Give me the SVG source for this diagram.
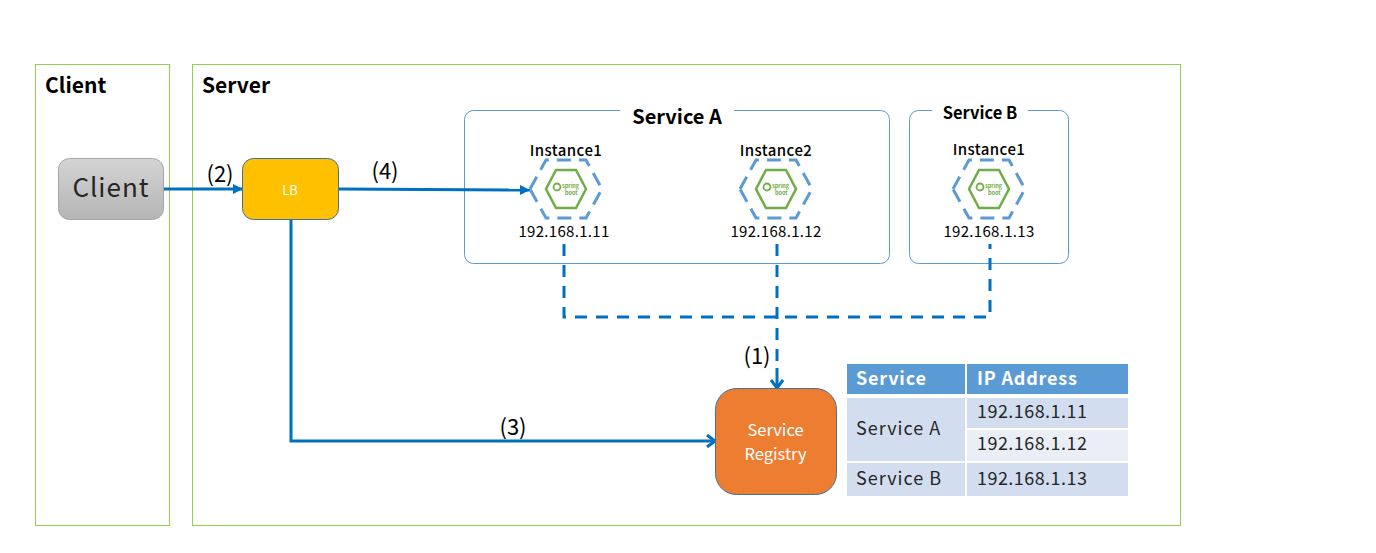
<svg xmlns="http://www.w3.org/2000/svg" width="1376" height="553" viewBox="0 0 1376 553">
<style>
text{font-family:"Noto Sans CJK JP","Noto Sans","Liberation Sans",sans-serif;fill:#000}
.zone{fill:#fff;stroke:#92d050;stroke-width:1}
.svc{fill:#fff;stroke:#5b9bd5;stroke-width:1}
.h{font-weight:700;font-size:21px}
.sub{font-weight:700;font-size:16.500px;text-anchor:middle}
.inst{font-weight:500;font-size:15px;text-anchor:middle;letter-spacing:.4px}
.ip{font-size:15px;text-anchor:middle;letter-spacing:.3px}
.num{font-size:22px;text-anchor:middle}
.conn{fill:none;stroke:#0070c0;stroke-width:3}
.dash{fill:none;stroke:#0070c0;stroke-width:3;stroke-dasharray:12 9}
.hex{fill:none;stroke:#5b9bd5;stroke-width:3;stroke-dasharray:14 8}
.boot{fill:#fff;stroke:#70ad47;stroke-width:2.500}
.bt{font-size:5.500px;font-weight:700;fill:#70ad47}
.th{fill:#5b9bd5}.c1{fill:#d2deef}.c2{fill:#eaeff7}
.tt{font-size:18px;fill:#fff;font-weight:700;letter-spacing:.8px}
.td{font-size:18px;fill:#262626;letter-spacing:1px}
.tn{font-size:18px;fill:#262626;letter-spacing:.45px}
</style>
<defs>
<marker id="tri" markerUnits="userSpaceOnUse" markerWidth="12" markerHeight="12" refX="10" refY="5" orient="auto"><path d="M0 0L10 5L0 10Z" fill="#0070c0"/></marker>
<marker id="open" markerUnits="userSpaceOnUse" markerWidth="14" markerHeight="14" refX="12" refY="7" orient="auto"><path d="M4 1L12 7L4 13" fill="none" stroke="#0070c0" stroke-width="3"/></marker>
<g id="hexicon">
<path class="hex" d="M-36 0L-20 -29H20L36 0L20 29H-20Z"/>
<path class="boot" d="M-20 0L-10 -19H10L20 0L10 19H-10Z"/>
<circle cx="-9" cy="-2" r="3.500" fill="none" stroke="#70ad47" stroke-width="1.800"/>
<text class="bt" x="-4" y="-1">spring</text>
<text class="bt" x="-1" y="6">boot</text>
</g>
</defs>
<g id="client-zone"><rect class="zone" x="35.500" y="64.500" width="134" height="461"/><text class="h" x="45" y="93">Client</text></g>
<g id="server-zone"><rect class="zone" x="192.500" y="64.500" width="988" height="461"/><text class="h" x="202" y="93">Server</text></g>
<g id="service-a"><rect class="svc" x="464.500" y="110.500" width="425" height="153" rx="9"/><rect x="620" y="104" width="114" height="14" fill="#fff"/><text class="sub" x="677" y="124" style="font-size:20px">Service A</text></g>
<g id="service-b"><rect class="svc" x="909.500" y="110.500" width="159" height="153" rx="9"/><rect x="932" y="104" width="96" height="14" fill="#fff"/><text class="sub" x="980" y="119">Service B</text></g>
<g id="connectors">
<path class="dash" d="M564 244V317H990V244"/>
<path class="dash" d="M777 244V368"/>
<path class="conn" marker-end="url(#open)" d="M777 368V388"/>
<path class="conn" marker-end="url(#tri)" d="M164 189H243"/>
<path class="conn" marker-end="url(#tri)" d="M339 189L530 190"/>
<path class="conn" marker-end="url(#open)" d="M291 219V441H715"/>
</g>
<g id="client"><defs><linearGradient id="g" x1="0" y1="0" x2="0" y2="1"><stop offset="0" stop-color="#d4d4d4"/><stop offset="1" stop-color="#b5b5b5"/></linearGradient></defs><rect x="58.500" y="158.500" width="105" height="61" rx="11" fill="url(#g)" stroke="#a5a5a5"/><text x="111" y="197" font-size="26" text-anchor="middle" letter-spacing="1" style="fill:#262626">Client</text></g>
<g id="lb"><rect x="242.500" y="158.500" width="96" height="61" rx="11" fill="#ffc000" stroke="#41719c"/><text x="290" y="195" font-size="13" text-anchor="middle" style="fill:#fff">LB</text></g>
<g id="a1"><use href="#hexicon" x="566" y="189"/><text class="inst" x="566" y="156">Instance1</text><text class="ip" x="564" y="237">192.168.1.11</text></g>
<g id="a2"><use href="#hexicon" x="776" y="189"/><text class="inst" x="776" y="156">Instance2</text><text class="ip" x="776" y="237">192.168.1.12</text></g>
<g id="b1"><use href="#hexicon" x="989" y="189"/><text class="inst" x="989" y="155">Instance1</text><text class="ip" x="989" y="237">192.168.1.13</text></g>
<g id="labels"><text class="num" x="220" y="182">(2)</text><text class="num" x="385" y="179">(4)</text><text class="num" x="513" y="435">(3)</text><text class="num" x="757" y="364">(1)</text></g>
<g id="registry"><rect x="715.500" y="388.500" width="121" height="106" rx="21" fill="#ed7d31" stroke="#41719c"/><text x="775.500" y="436" font-size="16.500" text-anchor="middle" style="fill:#fff">Service</text><text x="775.500" y="460" font-size="16.500" text-anchor="middle" style="fill:#fff">Registry</text></g>
<g id="table">
<rect class="th" x="847" y="364" width="118" height="30"/><rect class="th" x="967" y="364" width="161" height="30"/>
<rect class="c1" x="847" y="398" width="118" height="63"/><rect class="c1" x="967" y="398" width="161" height="30"/><rect class="c2" x="967" y="430" width="161" height="31"/>
<rect class="c1" x="847" y="463" width="118" height="33"/><rect class="c1" x="967" y="463" width="161" height="33"/>
<text class="tt" x="856" y="385">Service</text><text class="tt" x="977" y="385">IP Address</text>
<text class="td" x="856" y="435">Service A</text><text class="td" x="856" y="485">Service B</text>
<text class="tn" x="977" y="418">192.168.1.11</text><text class="tn" x="977" y="450">192.168.1.12</text><text class="tn" x="977" y="485">192.168.1.13</text>
</g>
</svg>
